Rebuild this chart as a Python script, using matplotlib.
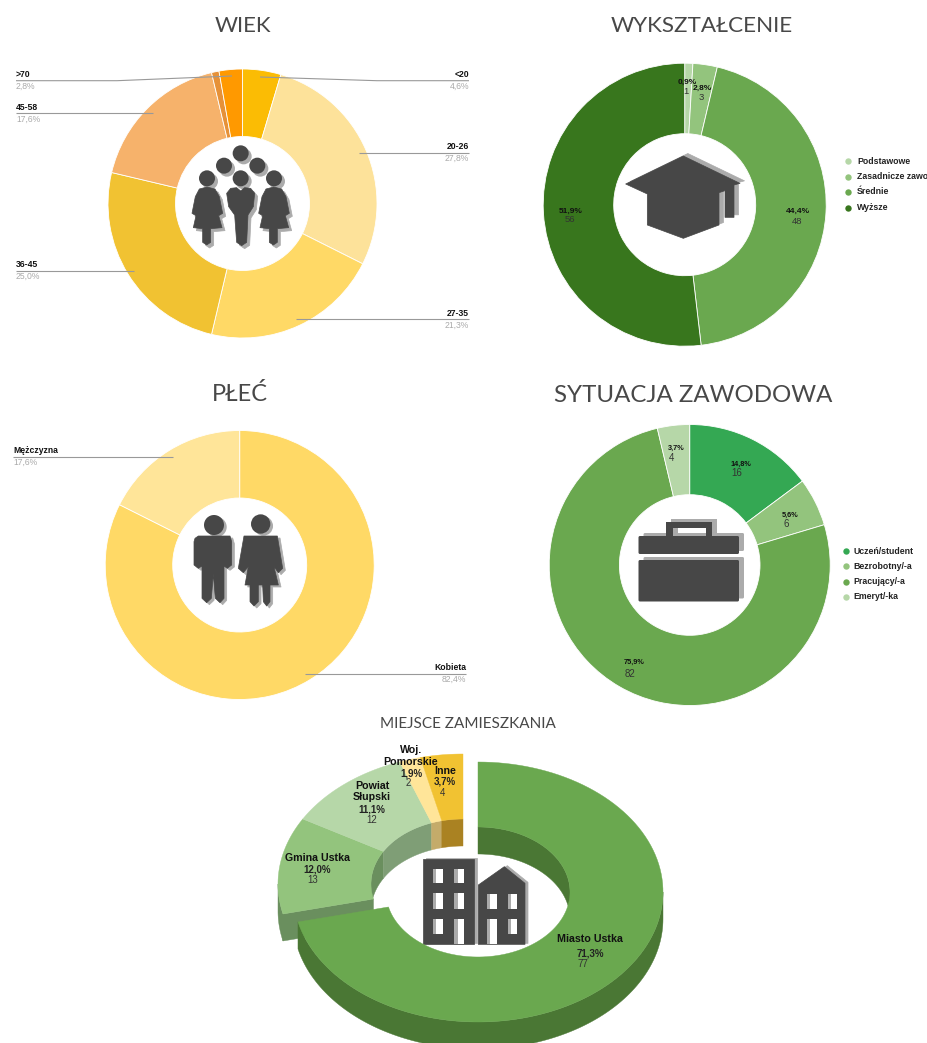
import numpy as np
import matplotlib
matplotlib.use('Agg')
import matplotlib.pyplot as plt
from matplotlib.patches import Polygon, Circle, Rectangle, FancyBboxPatch

W, H = 928, 1043

# WIEK
age_labels = ['<20', '20-26', '27-35', '36-45', '45-58', '58-70', '>70']
age_values = [4.6, 27.8, 21.3, 25.0, 17.6, 0.9, 2.8]
age_colors = ['#FBBC04', '#FDE29A', '#FFD966', '#F1C232', '#F6B26B', '#E69138', '#FF9900']

# WYKSZTALCENIE
edu_labels = ['Podstawowe', 'Zasadnicze zawo', 'Średnie', 'Wyższe']
edu_counts = [1, 3, 48, 56]
edu_pct = ['0,9%', '2,8%', '44,4%', '51,9%']
edu_colors = ['#B6D7A8', '#93C47D', '#6AA84F', '#38761D']

# PLEC
sex_labels = ['Kobieta', 'Mężczyzna']
sex_values = [82.4, 17.6]
sex_colors = ['#FFD966', '#FFE599']

# SYTUACJA ZAWODOWA
job_labels = ['Uczeń/student', 'Bezrobotny/-a', 'Pracujący/-a', 'Emeryt/-ka']
job_counts = [16, 6, 82, 4]
job_pct = ['14,8%', '5,6%', '75,9%', '3,7%']
job_colors = ['#34A853', '#93C47D', '#6AA84F', '#B6D7A8']

# MIEJSCE ZAMIESZKANIA
home_labels = ['Miasto Ustka', 'Gmina Ustka', 'Powiat\nSłupski', 'Woj.\nPomorskie', 'Inne']
home_counts = [77, 13, 12, 2, 4]
home_pct = ['71,3%', '12,0%', '11,1%', '1,9%', '3,7%']
home_colors = ['#6AA84F', '#93C47D', '#B6D7A8', '#FFE599', '#F1C232']
home_walls = ['#4A7734', '#6A8F5E', '#7F9E76', '#C4AB6A', '#AA8222']

DARK = '#474747'
SHADOW = '#ABABAB'
LABEL = ['Liberation Sans', 'DejaVu Sans']

fig = plt.figure(figsize=(W / 100, H / 100), dpi=100, facecolor='white')


def donut(values, colors, cx, cy, R, r):
    a = fig.add_axes([(cx - R) / W, 1 - (cy + R) / H, 2 * R / W, 2 * R / H])
    a.pie(values, colors=colors, startangle=90, counterclock=False, radius=1,
          wedgeprops=dict(width=1 - r / R, edgecolor='white', linewidth=0.6))
    a.set_xlim(-1, 1)
    a.set_ylim(-1, 1)


donut(age_values, age_colors, 242.5, 203.5, 134.5, 67)
donut(edu_counts, edu_colors, 684.7, 204.7, 141.5, 71)
donut(sex_values, sex_colors, 239.7, 565, 134.5, 67)
donut(job_counts, job_colors, 689.7, 565, 140.5, 70.3)

ax = fig.add_axes([0, 0, 1, 1], zorder=5)
ax.set_xlim(0, W)
ax.set_ylim(H, 0)
ax.axis('off')
ax.patch.set_alpha(0)


def title(s, x, y, size):
    ax.text(x, y, s, ha='center', va='center', fontsize=size, family='Lato', color='#484848')


title('WIEK', 243, 26, 16)
title('WYKSZTAŁCENIE', 702, 26, 16.2)
title('PŁEĆ', 240, 394, 17)
title('SYTUACJA ZAWODOWA', 693, 395, 17.3)
title('MIEJSCE ZAMIESZKANIA', 467.5, 724, 11)


def bold(s, x, y, size=6.1, ha='center', color='#111111'):
    ax.text(x, y, s, ha=ha, va='center', fontsize=size, family=LABEL,
            weight='bold', color=color)


def plain(s, x, y, size=6.3, ha='center', color='#444444'):
    ax.text(x, y, s, ha=ha, va='center', fontsize=size, family=LABEL, color=color)


def callout(name, pct, path, left):
    ax.plot(*zip(*path), color='#999999', lw=0.8, solid_capstyle='butt')
    x0, y0 = path[0]
    ha = 'left' if left else 'right'
    bold(name, x0, y0 - 6.3, 6.2, ha=ha)
    plain(pct, x0, y0 + 5.7, 6.2, ha=ha, color='#AAAAAA')


def pct(v):
    return f'{v:.1f}%'.replace('.', ',')


callout(age_labels[6], pct(age_values[6]), [(16, 80.7), (117, 80.7), (232, 76)], True)
callout(age_labels[0], pct(age_values[0]), [(469, 80.7), (377, 80.7), (260, 77)], False)
callout(age_labels[4], pct(age_values[4]), [(16, 113.3), (153, 113.3)], True)
callout(age_labels[1], pct(age_values[1]), [(469, 153), (359, 153)], False)
callout(age_labels[3], pct(age_values[3]), [(16, 271), (134, 271)], True)
callout(age_labels[2], pct(age_values[2]), [(469, 319.3), (296, 319.3)], False)
callout(sex_labels[1], pct(sex_values[1]), [(13, 456.5), (173, 456.5)], True)
callout(sex_labels[0], pct(sex_values[0]), [(466, 673.5), (305, 673.5)], False)

# etykiety na pierscieniach
edu_pos = [(687, 82, 91), (702, 88, 98), (798, 211.5, 221), (571, 211, 220)]
for p, n, (x, y1, y2) in zip(edu_pct, edu_counts, edu_pos):
    bold(p, x, y1, 6.0)
    plain(str(n), x - 1, y2, 6.8, color='#333333')
job_pos = [(741, 464, 473), (790, 515, 524), (634, 662, 674), (676, 448, 458)]
for p, n, (x, y1, y2) in zip(job_pct, job_counts, job_pos):
    bold(p, x, y1, 5.3)
    plain(str(n), x - 4, y2, 7, color='#333333')


def legend(labels, colors, mx, tx, y0, dy):
    for i, (s, c) in enumerate(zip(labels, colors)):
        y = y0 + i * dy
        ax.plot([mx], [y], 'o', ms=4.6, color=c, mec='none')
        bold(s, tx, y, 6.3, ha='left', color='#222222')


legend(edu_labels, edu_colors, 848, 857, 161, 15.5)
legend(job_labels, job_colors, 846, 853.5, 551, 15.3)


# ikony
def icon(polys, circles, x0, y0, off, k=1 / 3):
    for dx, dy, col in [(off[0], off[1], SHADOW), (0, 0, DARK)]:
        for p in polys:
            pts = [(x0 + k * x + dx, y0 + k * y + dy) for x, y in p]
            ax.add_patch(Polygon(pts, closed=True, fc=col, ec=col, lw=0.5, joinstyle='round'))
        for x, y, r in circles:
            ax.add_patch(Circle((x0 + k * x + dx, y0 + k * y + dy), k * r, fc=col, ec='none'))


woman = [(111, 156), (88, 162), (76, 185), (66, 235), (78, 242), (70, 278), (98, 281), (98, 322),
         (110, 330), (122, 322), (122, 281), (156, 278), (146, 242), (158, 235), (148, 185), (135, 162)]
man = [(170, 175), (182, 160), (200, 158), (212, 168), (224, 158), (242, 160), (254, 175), (250, 215),
       (234, 240), (230, 322), (215, 332), (200, 322), (194, 240), (176, 215)]
woman2 = [(x + 200, y) for x, y in woman]
heads = [(212, 55, 24), (162, 92, 24), (262, 92, 24), (111, 130, 24), (212, 130, 24), (312, 130, 24)]
icon([woman, man, woman2], heads, 170, 135, (3, 3))

man_p = [(75, 115), (85, 108), (180, 108), (185, 125), (185, 195), (172, 205), (162, 198), (162, 295),
         (150, 308), (136, 295), (130, 222), (124, 295), (110, 308), (96, 295), (96, 198), (85, 205),
         (72, 195), (72, 125)]
woman_p = [(222, 108), (322, 108), (338, 205), (325, 218), (312, 200), (325, 255), (300, 255), (300, 305),
           (290, 318), (280, 305), (278, 255), (265, 255), (265, 305), (252, 318), (240, 305), (240, 255),
           (225, 255), (235, 200), (220, 218), (205, 205)]
icon([man_p, woman_p], [(132, 75, 30), (272, 72, 29)], 170, 500, (2.7, 2))

cap = [(257, 402), (430, 318), (600, 400), (582, 405), (582, 502), (555, 502), (555, 422), (537, 428),
       (537, 525), (430, 565), (322, 525), (322, 432)]
icon([cap], [], 540, 50, (4.5, -2.5))

# teczka
for dx, dy, col in [(5, -3, SHADOW), (0, 0, DARK)]:
    for x, y, w, h in [(638.5, 536, 100.5, 18), (638.5, 560, 100.5, 41.5)]:
        ax.add_patch(FancyBboxPatch((x + dx, y + dy), w, h, boxstyle='round,pad=0,rounding_size=1.5',
                                    fc=col, ec='none'))
    for x, y, w, h in [(666, 522, 6.7, 15), (706, 522, 6.5, 15), (666, 522, 46.5, 6)]:
        ax.add_patch(Rectangle((x + dx, y + dy), w, h, fc=col, ec='none'))

# budynki
big = [(458, 447), (612, 447), (612, 703), (458, 703)]
house = [(625, 525), (703, 470), (765, 520), (765, 703), (625, 703)]
icon([big, house], [], 270, 710, (3, -1))
windows = [(488, 477, 32, 43), (553, 477, 30, 43), (488, 550, 32, 48), (553, 550, 30, 48),
           (488, 627, 32, 45), (553, 627, 30, 76),
           (650, 552, 30, 45), (715, 552, 27, 45), (650, 627, 30, 76), (715, 627, 27, 45)]
for x, y, w, h in windows:
    ax.add_patch(Rectangle((270 + x / 3, 710 + y / 3), w / 3, h / 3, fc='white', ec='none', zorder=3))
    ax.add_patch(Rectangle((270 + x / 3, 710 + y / 3), w / 9, h / 3, fc=SHADOW, ec='none', zorder=3))

# pierscien 3D
cx3, cy3, a_out, b_out, a_in, b_in, depth = 478, 892, 185, 130, 92, 65, 27
gap = (-15, -8)
total = sum(home_counts)
edges = np.cumsum([0] + home_counts) / total * 2 * np.pi


def arc(t0, t1, a, b, dx=0, dy=0):
    t = np.linspace(t0, t1, 120)
    return np.column_stack([cx3 + dx + a * np.sin(t), cy3 + dy - b * np.cos(t)])


def add(pts, col, z):
    ax.add_patch(Polygon(pts, closed=True, fc=col, ec=col, lw=0.3, zorder=z))


def wall(t0, t1, a, b, col, z, dx=0, dy=0):
    up = arc(t0, t1, a, b, dx, dy)
    down = arc(t1, t0, a, b, dx, dy + depth)
    add(np.vstack([up, down]), col, z)


# odsuniete wycinki
gx, gy = gap
t0 = edges[1]
outer_pt = arc(t0, t0, a_out, b_out, gx, gy)[0]
inner_pt = arc(t0, t0, a_in, b_in, gx, gy)[0]
add([outer_pt, inner_pt, inner_pt + [0, depth], outer_pt + [0, depth]], home_walls[1], 1)
wall(t0, 1.5 * np.pi, a_out, b_out, home_walls[1], 1, gx, gy)
for i in range(1, 5):
    s, e = edges[i], edges[i + 1]
    wall(max(s, 1.5 * np.pi), e, a_in, b_in, home_walls[i], 1, gx, gy)
    top = np.vstack([arc(s, e, a_out, b_out, gx, gy), arc(e, s, a_in, b_in, gx, gy)])
    add(top, home_colors[i], 1.5)

# glowny wycinek
s, e = edges[0], edges[1]
wall(0, 0.5 * np.pi, a_in, b_in, home_walls[0], 2)
wall(0.5 * np.pi, e, a_out, b_out, home_walls[0], 2)
add(np.vstack([arc(s, e, a_out, b_out), arc(e, s, a_in, b_in)]), home_colors[0], 2.5)

home_pos = [(590, 939, 953, 583, 964), (317.5, 858, 869, 313, 880), (372, 791.5, 809, 372, 820),
            (411, 756, 773, 408, 783), (445, 771, 782, 443, 793)]
for s, p, n, (x, y1, y2, xn, yn) in zip(home_labels, home_pct, home_counts, home_pos):
    ax.text(x, y1, s, ha='center', va='center', fontsize=7.7, family=LABEL, weight='bold',
            color='#111111', zorder=6, linespacing=1.2)
    ax.text(x, y2, p, ha='center', va='center', fontsize=7, family=LABEL, weight='bold',
            color='#222222', zorder=6)
    ax.text(xn, yn, str(n), ha='center', va='center', fontsize=7, family=LABEL,
            color='#333333', zorder=6)

fig.savefig('out.png', dpi=100)
